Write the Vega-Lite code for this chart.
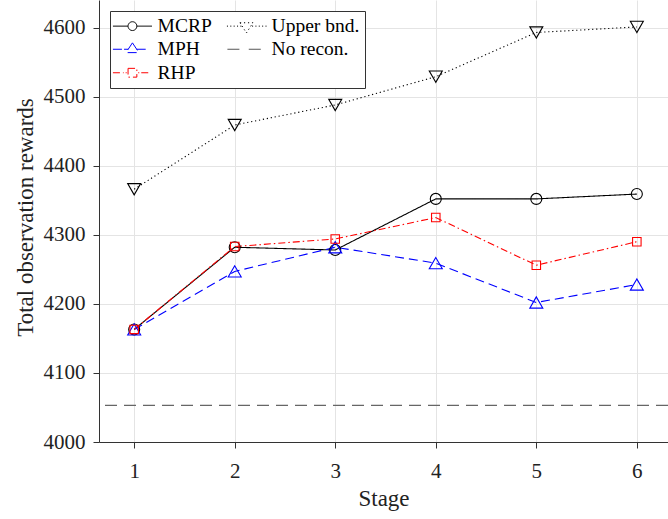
{
  "$schema": "https://vega.github.io/schema/vega-lite/v6.json",
  "width": 569,
  "height": 442,
  "autosize": {"type": "none"},
  "padding": {"left": 99, "top": 0, "right": 0, "bottom": 77},
  "background": "white",
  "config": {
    "view": {"stroke": null},
    "font": "Liberation Serif",
    "axis": {
      "labelFont": "Liberation Serif",
      "titleFont": "Liberation Serif",
      "labelFontSize": 21,
      "titleFontSize": 23,
      "titleFontWeight": "normal",
      "labelColor": "#222222",
      "titleColor": "#222222",
      "domainColor": "#333333",
      "tickColor": "#333333",
      "gridColor": "#e4e4e4",
      "gridWidth": 1,
      "tickSize": 6,
      "labelFlush": false,
      "labelOverlap": false
    }
  },
  "datasets": {
    "series": [
      {"series": "MCRP", "stage": 1, "value": 4163},
      {"series": "MCRP", "stage": 2, "value": 4282},
      {"series": "MCRP", "stage": 3, "value": 4278},
      {"series": "MCRP", "stage": 4, "value": 4352},
      {"series": "MCRP", "stage": 5, "value": 4352},
      {"series": "MCRP", "stage": 6, "value": 4359},
      {"series": "MPH", "stage": 1, "value": 4163},
      {"series": "MPH", "stage": 2, "value": 4247},
      {"series": "MPH", "stage": 3, "value": 4282},
      {"series": "MPH", "stage": 4, "value": 4259},
      {"series": "MPH", "stage": 5, "value": 4202},
      {"series": "MPH", "stage": 6, "value": 4228},
      {"series": "RHP", "stage": 1, "value": 4163},
      {"series": "RHP", "stage": 2, "value": 4283},
      {"series": "RHP", "stage": 3, "value": 4294},
      {"series": "RHP", "stage": 4, "value": 4325},
      {"series": "RHP", "stage": 5, "value": 4256},
      {"series": "RHP", "stage": 6, "value": 4290},
      {"series": "Upper bnd.", "stage": 1, "value": 4366},
      {"series": "Upper bnd.", "stage": 2, "value": 4459},
      {"series": "Upper bnd.", "stage": 3, "value": 4488},
      {"series": "Upper bnd.", "stage": 4, "value": 4529},
      {"series": "Upper bnd.", "stage": 5, "value": 4593},
      {"series": "Upper bnd.", "stage": 6, "value": 4601}
    ],
    "norecon": [{"series": "No recon.", "value": 4053}]
  },
  "layer": [
    {
      "data": {"name": "norecon"},
      "mark": {"type": "rule", "color": "#666666", "strokeDash": [12, 7], "strokeWidth": 1.1},
      "encoding": {
        "y": {"field": "value", "type": "quantitative", "scale": {"domain": [4000, 4640], "nice": false, "zero": false}}
      }
    },
    {
      "data": {"name": "series"},
      "mark": {"type": "line", "strokeWidth": 1.1},
      "encoding": {
        "x": {
          "field": "stage", "type": "quantitative",
          "scale": {"domain": [0.65, 6.31], "nice": false, "zero": false},
          "axis": {"values": [1, 2, 3, 4, 5, 6], "format": "d", "labelPadding": 12, "title": "Stage", "titleY": 63, "titleBaseline": "alphabetic", "grid": true}
        },
        "y": {
          "field": "value", "type": "quantitative",
          "scale": {"domain": [4000, 4640], "nice": false, "zero": false},
          "axis": {"values": [4000, 4100, 4200, 4300, 4400, 4500, 4600], "format": "d", "labelPadding": 8, "title": "Total observation rewards", "titleX": -67, "titleY": 217, "titleAngle": 270, "titleBaseline": "alphabetic", "grid": true}
        },
        "color": {
          "field": "series", "type": "nominal",
          "scale": {"domain": ["MCRP", "MPH", "RHP", "Upper bnd.", "No recon."], "range": ["#000000", "#0000ff", "#ff0000", "#000000", "#555555"]},
          "legend": {
            "title": null,
            "orient": "none",
            "legendX": 11,
            "legendY": 11,
            "columns": 2,
            "columnPadding": 12,
            "rowPadding": 2.5,
            "padding": 5,
            "strokeColor": "#333333",
            "fillColor": "white",
            "labelFont": "Liberation Serif",
            "labelFontSize": 19.5,
            "labelColor": "#000000",
            "symbolSize": 256,
            "symbolStrokeWidth": 1,
            "symbolOffset": 7.7,
            "labelOffset": 15.4,
            "encode": {
              "symbols": {
                "update": {
                  "shape": {"signal": "datum.value === 'MCRP' ? 'M-2.44,0H-0.55M0.55,0H2.44M0.55,0A0.55,0.55,0,1,1,-0.55,0A0.55,0.55,0,1,1,0.55,0Z' : datum.value === 'MPH' ? 'M-2.44,0H-1.3M-1.05,0H-0.53M0.53,0H1.94M0,-0.8L0.81,0.42L-0.81,0.42Z' : datum.value === 'RHP' ? 'M-2.44,0H-1.1M-0.85,0H-0.72M0.72,0H0.85M1.1,0H2.3M-0.55,-0.55H0.55V0.55H-0.55Z' : datum.value === 'Upper bnd.' ? 'M-0.81,-0.42L0.81,-0.42L0,0.85ZM-2.44,0h0.13M-2.02,0h0.13M-1.6,0h0.13M-1.18,0h0.13M-0.76,0h0.13M0.7,0h0.13M1.12,0h0.13M1.54,0h0.13M1.96,0h0.13M2.38,0h0.13' : 'M-2.38,0H-0.29M0.29,0H1.79'"},
                  "size": {"value": 256},
                  "fill": {"value": "white"},
                  "strokeWidth": {"value": 1},
                  "strokeDash": {"value": [1, 0]}
                }
              }
            }
          }
        },
        "strokeDash": {
          "field": "series", "type": "nominal",
          "scale": {"domain": ["MCRP", "MPH", "RHP", "Upper bnd.", "No recon."], "range": [[1, 0], [9, 5], [7, 3, 1.5, 3], [1.2, 2.8], [12, 7]]},
          "legend": null
        }
      }
    },
    {
      "data": {"name": "series"},
      "transform": [{"filter": "datum.series === 'MCRP'"}],
      "mark": {"type": "point", "shape": "circle", "filled": false, "size": 121, "strokeWidth": 1.1, "color": "#000000", "opacity": 1},
      "encoding": {
        "x": {"field": "stage", "type": "quantitative"},
        "y": {"field": "value", "type": "quantitative"}
      }
    },
    {
      "data": {"name": "series"},
      "transform": [{"filter": "datum.series === 'MPH'"}],
      "mark": {"type": "point", "shape": "triangle-up", "filled": false, "size": 169, "strokeWidth": 1.1, "color": "#0000ff", "opacity": 1},
      "encoding": {
        "x": {"field": "stage", "type": "quantitative"},
        "y": {"field": "value", "type": "quantitative"}
      }
    },
    {
      "data": {"name": "series"},
      "transform": [{"filter": "datum.series === 'RHP'"}],
      "mark": {"type": "point", "shape": "square", "filled": false, "size": 72, "strokeWidth": 1.1, "color": "#ff0000", "opacity": 1},
      "encoding": {
        "x": {"field": "stage", "type": "quantitative"},
        "y": {"field": "value", "type": "quantitative"}
      }
    },
    {
      "data": {"name": "series"},
      "transform": [{"filter": "datum.series === 'Upper bnd.'"}],
      "mark": {"type": "point", "shape": "triangle-down", "filled": false, "size": 169, "strokeWidth": 1.1, "color": "#000000", "opacity": 1},
      "encoding": {
        "x": {"field": "stage", "type": "quantitative"},
        "y": {"field": "value", "type": "quantitative"}
      }
    }
  ]
}
